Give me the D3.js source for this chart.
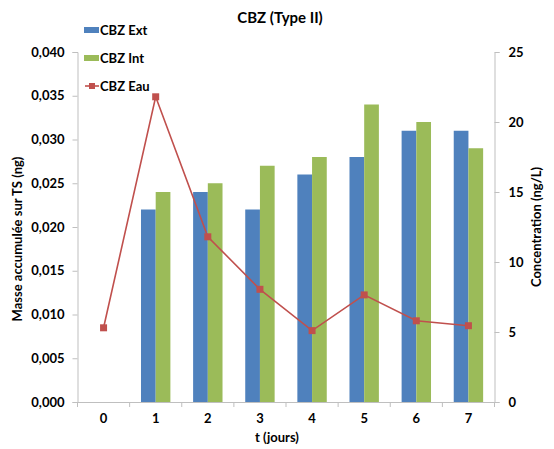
<!DOCTYPE html>
<html><head><meta charset="utf-8">
<script src="https://cdn.jsdelivr.net/npm/d3@7"></script>
<style>
body{margin:0;background:#fff;}
text{font-family:Lato,"Open Sans",sans-serif;font-weight:700;fill:#000;}
</style></head>
<body><svg id="c" width="554" height="449"></svg>
<script>
const categories = ["0","1","2","3","4","5","6","7"];
const cbzExt = [null,0.022,0.024,0.022,0.026,0.028,0.031,0.031];
const cbzInt = [null,0.024,0.025,0.027,0.028,0.034,0.032,0.029];
const cbzEau = [5.3,21.8,11.8,8.05,5.1,7.65,5.8,5.45];
const leftTicks = [0,0.005,0.010,0.015,0.020,0.025,0.030,0.035,0.040];
const rightTicks = [0,5,10,15,20,25];
const seriesNames = ["CBZ Ext","CBZ Int","CBZ Eau"];
const colors = {ext:"#4F81BD", int:"#9BBB59", eau:"#C0504D"};

const svg = d3.select("#c");
const L = 77.5, R = 494.5, T = 52, B = 402;
const x = d3.scaleBand().domain(categories).range([L,R]);
const y = d3.scaleLinear().domain([0,0.04]).range([B,T]);
const y2 = d3.scaleLinear().domain([0,25]).range([B,T]);
const bw = 14.7;
const gray = "#BFBFBF";
const fmt = d3.format(".3f");

// bars
const bars = svg.append("g");
categories.forEach((c,i)=>{
  const cx = x(c) + x.bandwidth()/2;
  if (cbzExt[i]!=null) bars.append("rect").attr("x",cx-bw).attr("width",bw)
    .attr("y",y(cbzExt[i])).attr("height",B-y(cbzExt[i])).attr("fill",colors.ext);
  if (cbzInt[i]!=null) bars.append("rect").attr("x",cx).attr("width",bw)
    .attr("y",y(cbzInt[i])).attr("height",B-y(cbzInt[i])).attr("fill",colors.int);
});

// left axis
const la = svg.append("g").attr("transform",`translate(${L},0)`)
  .call(d3.axisLeft(y).tickValues(leftTicks).tickFormat(d=>fmt(d).replace(".",",")).tickSizeOuter(0).tickSize(5).tickPadding(8));
// right axis
const ra = svg.append("g").attr("transform",`translate(${R},0)`)
  .call(d3.axisRight(y2).tickValues(rightTicks).tickSizeOuter(0).tickSize(5).tickPadding(9));
// bottom axis
const ba = svg.append("g").attr("transform",`translate(0,${B})`)
  .call(d3.axisBottom(x).tickSize(0).tickPadding(12));
ba.selectAll(".tick line").remove();
const bt = svg.append("g");
categories.forEach(c=>{
  bt.append("line").attr("x1",x(c)).attr("x2",x(c)).attr("y1",B).attr("y2",B+5).attr("stroke",gray);
});
bt.append("line").attr("x1",R).attr("x2",R).attr("y1",B).attr("y2",B+5).attr("stroke",gray);
[la,ra,ba].forEach(a=>{
  a.selectAll("path").attr("stroke",gray);
  a.selectAll("line").attr("stroke",gray);
  a.selectAll("text").style("font-family","Lato,'Open Sans',sans-serif").style("font-weight","700").style("font-size","13px").attr("fill","#000");
});

// line
const line = d3.line().x((d,i)=>x(categories[i])+x.bandwidth()/2).y(d=>y2(d));
svg.append("path").datum(cbzEau).attr("d",line).attr("fill","none").attr("stroke",colors.eau).attr("stroke-width",1.6);
svg.selectAll(".mk").data(cbzEau).enter().append("rect")
  .attr("x",(d,i)=>x(categories[i])+x.bandwidth()/2-3.5).attr("y",d=>y2(d)-3.5)
  .attr("width",7).attr("height",7).attr("fill",colors.eau);

// title
svg.append("text").attr("x",280).attr("y",23).attr("text-anchor","middle").style("font-size","15px").text("CBZ (Type II)");
svg.append("text").attr("x",277).attr("y",442).attr("text-anchor","middle").style("font-size","13px").text("t (jours)");
svg.append("text").attr("transform",`translate(22,${(T+B)/2+12}) rotate(-90)`).attr("text-anchor","middle").style("font-size","13px").text("Masse accumulée sur TS (ng)");
svg.append("text").attr("transform",`translate(541,${(T+B)/2}) rotate(-90)`).attr("text-anchor","middle").style("font-size","13px").text("Concentration (ng/L)");

// legend
const lg = svg.append("g");
const ly = [30,58,86];
lg.append("rect").attr("x",84).attr("y",ly[0]-3).attr("width",15).attr("height",6).attr("fill",colors.ext);
lg.append("rect").attr("x",84).attr("y",ly[1]-3).attr("width",15).attr("height",6).attr("fill",colors.int);
lg.append("line").attr("x1",85).attr("x2",99).attr("y1",ly[2]).attr("y2",ly[2]).attr("stroke",colors.eau).attr("stroke-width",1.6);
lg.append("rect").attr("x",89).attr("y",ly[2]-3).attr("width",6).attr("height",6).attr("fill",colors.eau);
seriesNames.forEach((n,i)=>{
  lg.append("text").attr("x",100).attr("y",ly[i]+4.5).style("font-size","13px").text(n);
});
</script></body></html>
